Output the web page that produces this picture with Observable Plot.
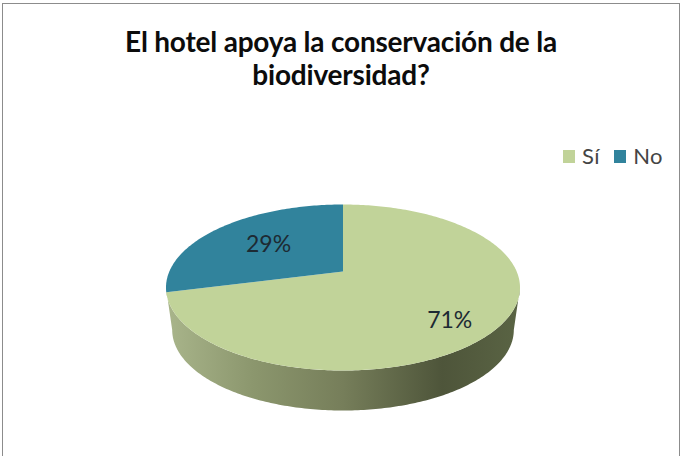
<!DOCTYPE html>
<html lang="es">
<head>
<meta charset="utf-8">
<script src="https://cdn.jsdelivr.net/npm/d3@7"></script>
<script src="https://cdn.jsdelivr.net/npm/@observablehq/plot@0.6"></script>
<style>
  html, body { margin: 0; padding: 0; background: #fff; overflow: hidden; }
  #page { position: relative; width: 682px; height: 456px; overflow: hidden; font-family: Lato, sans-serif; }
  #frame { position: absolute; left: 2px; top: 3px; width: 676px; height: 470px; border: 1.5px solid #8c8c8c; box-sizing: content-box; }
  #title { position: absolute; left: 0; top: 25px; width: 682px; text-align: center; font-weight: 700; font-size: 28px; line-height: 33px; color: #0c0c0c; letter-spacing: -0.2px; }
  #chart { position: absolute; left: 0; top: 100px; }
  #legend { position: absolute; left: 563px; top: 142px; display: flex; align-items: center; font-size: 22px; color: #444; line-height: 28px; }
  #legend i { display: inline-block; width: 12px; height: 13px; margin-right: 7px; }
  #legend span { margin-right: 14px; letter-spacing: 0.5px; }
</style>
</head>
<body>
<div id="page">
  <div id="frame"></div>
  <div id="title">El hotel apoya la conservación de la<br>biodiversidad?</div>
  <div id="chart"></div>
  <div id="legend"></div>
</div>
<script>
const categories = ["Sí", "No"];
const values = [71, 29];
const labels = ["71%", "29%"];
const colors = ["#c1d399", "#31839c"];
const wallStops = [
  [0, "#a9b58b"], [0.25, "#8b966d"], [0.5, "#767e5a"], [0.78, "#4e553a"], [1, "#5a6444"]
];

// A tilted disc: the perspective map keeps the rim an ellipse and moves the centre back.
const tilt = 0.193, squeeze = Math.sqrt(1 - tilt * tilt);
const project = (r, a) => {
  const u = r * Math.sin(a), v = r * Math.cos(a), w = 1 + tilt * v;
  return {x: u * squeeze / w, y: (v + tilt) / w};
};

const total = d3.sum(values);
const slices = [];
const mids = [];
let start = 0;
categories.forEach((name, i) => {
  const end = start + (values[i] / total) * 2 * Math.PI;
  slices.push({name, ...project(0, 0)});
  for (const a of d3.range(start, end, Math.PI / 180)) slices.push({name, ...project(1, a)});
  slices.push({name, ...project(1, end)});
  mids.push((start + end) / 2);
  start = end;
});

const lower = d3.range(0, 181).map(d => (d * Math.PI) / 180);
const wall = [
  ...lower.map(t => ({x: -Math.cos(t), y: -Math.sin(t)})),
  ...lower.slice().reverse().map(t => ({x: -0.965 * Math.cos(t), y: -0.97 * Math.sin(t) - 0.512}))
];

const gradient = () => {
  const svg = d3.create("svg:defs");
  const g = svg.append("linearGradient").attr("id", "wall");
  wallStops.forEach(([o, c]) => g.append("stop").attr("offset", o).attr("stop-color", c));
  return svg.node();
};

const labelAt = (i, r) => [{label: labels[i], ...project(r, mids[i])}];
const labelOptions = {x: "x", y: "y", text: "label", fontSize: 23, fill: "#1d2a33", fontFamily: "Lato, sans-serif"};

const chart = Plot.plot({
  width: 682,
  height: 356,
  margin: 0,
  x: {domain: [-1, 1], range: [165.5, 519.5], axis: null},
  y: {domain: [-1, 1], range: [270, 104], axis: null},
  color: {domain: categories, range: colors},
  marks: [
    gradient,
    Plot.line(wall, {x: "x", y: "y", fill: "url(#wall)", stroke: "none"}),
    Plot.line(slices, {x: "x", y: "y", z: "name", fill: "name", stroke: "none"}),
    Plot.text(labelAt(0, 0.7), {...labelOptions, dx: 2, dy: 12}),
    Plot.text(labelAt(1, 0.58), labelOptions)
  ]
});
document.getElementById("chart").appendChild(chart);

const legend = d3.select("#legend");
categories.forEach((name, i) => {
  legend.append("i").style("background", colors[i]);
  legend.append("span").text(name);
});
</script>
</body>
</html>
